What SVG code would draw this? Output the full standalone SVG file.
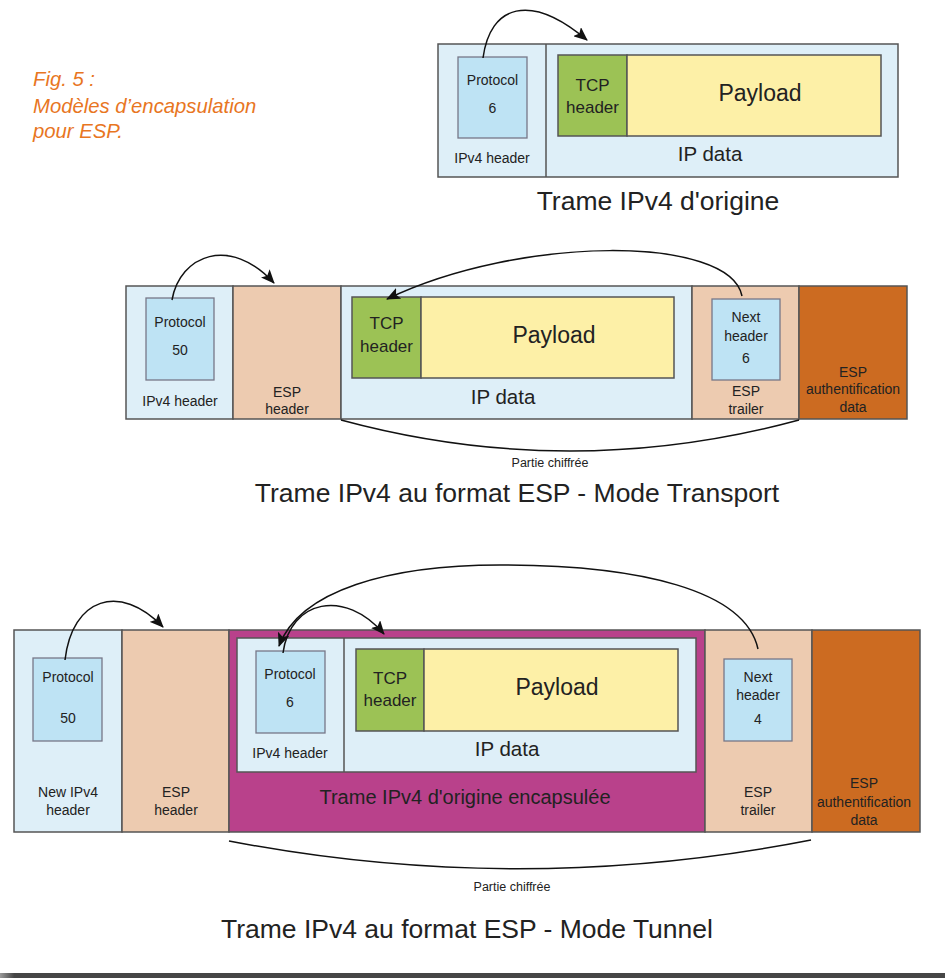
<svg xmlns="http://www.w3.org/2000/svg" width="945" height="978" viewBox="0 0 945 978">
<defs>
<style>
text{font-family:"Liberation Sans",Arial,sans-serif;fill:#222;text-anchor:middle}
.fr{stroke:#555;stroke-width:1.5}
.lb{fill:#deeff8}
.pe{fill:#edcbb0}
.or{fill:#cc6b21}
.mg{fill:#b9418b}
.bx{fill:#bee3f4;stroke:#778;stroke-width:1.3}
.gr{fill:#9cc255;stroke:#555;stroke-width:1.5}
.ye{fill:#fdf0a7;stroke:#555;stroke-width:1.5}
.s14{font-size:14px}
.s13{font-size:14px}
.s17{font-size:17px}
.s23{font-size:23px}
.s20{font-size:20.5px}
.ti{font-size:26.5px}
.pc{font-size:12.5px}
.con{fill:none;stroke:#111;stroke-width:1.5}
.fig{font-size:20.3px;font-style:italic;fill:#e8761f;text-anchor:start}
</style>
<marker id="ah" viewBox="0 0 14 12" refX="13" refY="6" markerWidth="14" markerHeight="12" markerUnits="userSpaceOnUse" orient="auto">
<path d="M0,0 L14,6 L0,12 L3,6 z" fill="#111"/>
</marker>
<linearGradient id="bar" x1="0" y1="0" x2="1" y2="0">
<stop offset="0" stop-color="#9a9a9a"/>
<stop offset="0.015" stop-color="#464646"/>
<stop offset="1" stop-color="#464646"/>
</linearGradient>
</defs>

<g id="caption">
<text class="fig" x="33" y="86">Fig. 5 :</text>
<text class="fig" x="33" y="113">Modèles d’encapsulation</text>
<text class="fig" x="33" y="138">pour ESP.</text>
</g>

<!-- Diagram 1 -->
<g id="d1-frame">
<rect class="lb fr" x="438" y="44" width="460" height="133"/>
<line class="fr" x1="546" y1="44" x2="546" y2="177"/>
</g>
<g id="d1-ipv4-header">
<rect class="bx" x="458" y="57" width="69" height="81"/>
<text class="s14" x="492.5" y="85">Protocol</text>
<text class="s14" x="492.5" y="113">6</text>
<text class="s14" x="492" y="163">IPv4 header</text>
</g>
<g id="d1-ip-data">
<rect class="gr" x="558" y="55" width="69" height="81"/>
<rect class="ye" x="627" y="55" width="254" height="81"/>
<text class="s17" x="592.5" y="91">TCP</text>
<text class="s17" x="592.5" y="113">header</text>
<text class="s23" x="760" y="101">Payload</text>
<text class="s20" x="710" y="161">IP data</text>
</g>
<text id="d1-title" class="ti" x="658" y="210">Trame IPv4 d'origine</text>

<!-- Diagram 2 -->
<g id="d2-ipv4-header">
<rect class="lb fr" x="126" y="286" width="107" height="133"/>
<rect class="bx" x="146" y="298" width="68" height="82"/>
<text class="s14" x="180" y="327">Protocol</text>
<text class="s14" x="180" y="355">50</text>
<text class="s14" x="180" y="406">IPv4 header</text>
</g>
<g id="d2-esp-header">
<rect class="pe fr" x="233" y="286" width="108" height="133"/>
<text class="s14" x="287" y="397">ESP</text>
<text class="s14" x="287" y="414">header</text>
</g>
<g id="d2-ip-data">
<rect class="lb fr" x="341" y="286" width="351" height="133"/>
<rect class="gr" x="352" y="297" width="69" height="81"/>
<rect class="ye" x="421" y="297" width="253" height="81"/>
<text class="s17" x="386.5" y="329">TCP</text>
<text class="s17" x="386.5" y="352">header</text>
<text class="s23" x="554" y="343">Payload</text>
<text class="s20" x="503" y="404">IP data</text>
</g>
<g id="d2-esp-trailer">
<rect class="pe fr" x="692" y="286" width="107" height="133"/>
<rect class="bx" x="712" y="299" width="68" height="81"/>
<text class="s14" x="746" y="322">Next</text>
<text class="s14" x="746" y="341">header</text>
<text class="s14" x="746" y="363">6</text>
<text class="s14" x="746" y="396">ESP</text>
<text class="s14" x="746" y="414">trailer</text>
</g>
<g id="d2-esp-auth">
<rect class="or fr" x="799" y="286" width="108" height="133"/>
<text class="s13" x="853" y="377">ESP</text>
<text class="s13" x="853" y="394">authentification</text>
<text class="s13" x="853" y="412">data</text>
</g>
<text id="d2-partie" class="pc" x="550" y="467">Partie chiffrée</text>
<text id="d2-title" class="ti" x="517" y="502">Trame IPv4 au format ESP - Mode Transport</text>

<!-- Diagram 3 -->
<g id="d3-new-ipv4-header">
<rect class="lb fr" x="14" y="630" width="108" height="202"/>
<rect class="bx" x="33" y="658" width="69" height="83"/>
<text class="s14" x="68" y="682">Protocol</text>
<text class="s14" x="68" y="723">50</text>
<text class="s14" x="68" y="797">New IPv4</text>
<text class="s14" x="68" y="815">header</text>
</g>
<g id="d3-esp-header">
<rect class="pe fr" x="122" y="630" width="107" height="202"/>
<text class="s14" x="176" y="797">ESP</text>
<text class="s14" x="176" y="815">header</text>
</g>
<g id="d3-encapsulated">
<rect class="mg fr" x="229" y="630" width="476" height="202"/>
<rect class="lb fr" x="237" y="638" width="459" height="134"/>
<line class="fr" x1="344" y1="638" x2="344" y2="772"/>
<rect class="bx" x="256" y="651" width="69" height="82"/>
<text class="s14" x="290" y="679">Protocol</text>
<text class="s14" x="290" y="707">6</text>
<text class="s14" x="290" y="758">IPv4 header</text>
<rect class="gr" x="356" y="649" width="68" height="82"/>
<rect class="ye" x="424" y="649" width="254" height="82"/>
<text class="s17" x="390" y="684">TCP</text>
<text class="s17" x="390" y="706">header</text>
<text class="s23" x="557" y="695">Payload</text>
<text class="s20" x="507" y="756">IP data</text>
<text style="font-size:20px" x="465" y="804">Trame IPv4 d'origine encapsulée</text>
</g>
<g id="d3-esp-trailer">
<rect class="pe fr" x="705" y="630" width="107" height="202"/>
<rect class="bx" x="724" y="659" width="68" height="82"/>
<text class="s14" x="758" y="682">Next</text>
<text class="s14" x="758" y="700">header</text>
<text class="s14" x="758" y="724">4</text>
<text class="s14" x="758" y="797">ESP</text>
<text class="s14" x="758" y="815">trailer</text>
</g>
<g id="d3-esp-auth">
<rect class="or fr" x="812" y="630" width="108" height="202"/>
<text class="s13" x="864" y="788">ESP</text>
<text class="s13" x="864" y="807">authentification</text>
<text class="s13" x="864" y="825">data</text>
</g>
<text id="d3-partie" class="pc" x="512" y="891">Partie chiffrée</text>
<text id="d3-title" class="ti" x="467" y="938">Trame IPv4 au format ESP - Mode Tunnel</text>

<g id="connectors">
<path class="con" marker-end="url(#ah)" d="M483,58 C490,5 530,-8 587,40"/>
<path class="con" marker-end="url(#ah)" d="M172,300 C180,255 230,235 274,283"/>
<path class="con" marker-end="url(#ah)" d="M742,296 C730,235 520,235 387,299"/>
<path class="con" d="M341,420 Q570,482 799,420"/>
<path class="con" marker-end="url(#ah)" d="M65,660 C72,598 120,582 163,627"/>
<path class="con" marker-end="url(#ah)" d="M283,653 C290,600 345,588 384,634"/>
<path class="con" marker-end="url(#ah)" d="M758,649 C745,590 640,565 500,565 C390,565 300,590 279,646"/>
<path class="con" d="M229,841 Q520,897 811,840"/>
</g>

<rect id="bottom-bar" x="0" y="973" width="945" height="5" fill="url(#bar)"/>
</svg>
